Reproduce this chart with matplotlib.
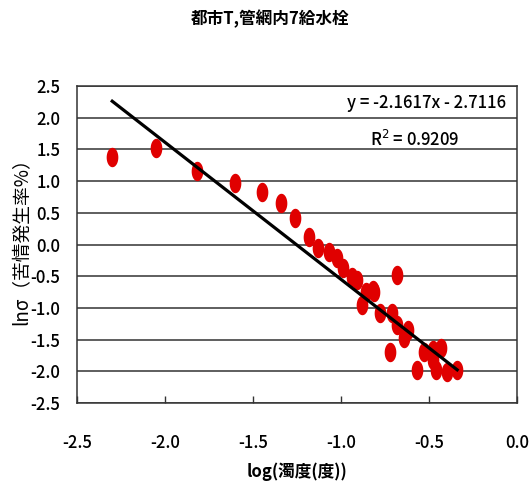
import numpy as np
import matplotlib.pyplot as plt
from matplotlib.path import Path

plt.rcParams['font.family'] = ['Noto Sans CJK JP', 'DejaVu Sans']

# log(turbidity) and ln(sigma)
log_turb = [-2.30, -2.05, -1.82, -1.60, -1.45, -1.34, -1.26, -1.18, -1.13, -1.07,
            -1.02, -0.99, -0.94, -0.91, -0.86, -0.82, -0.81, -0.88, -0.78, -0.71,
            -0.68, -0.68, -0.62, -0.64, -0.72, -0.53, -0.48, -0.43, -0.48, -0.57,
            -0.46, -0.40, -0.34]
ln_sigma = [1.38, 1.52, 1.16, 0.97, 0.83, 0.66, 0.42, 0.12, -0.06, -0.12,
            -0.21, -0.37, -0.51, -0.56, -0.75, -0.72, -0.75, -0.95, -1.08, -1.08,
            -0.48, -1.27, -1.35, -1.47, -1.70, -1.70, -1.66, -1.63, -1.82, -1.98,
            -1.98, -2.01, -1.98]
slope = -2.1617
intercept = -2.7116
r2 = 0.9209

# tall ellipse marker
t = np.linspace(0, 2 * np.pi, 60)
ellipse = Path(np.column_stack([0.6 * np.cos(t), np.sin(t)]), closed=True)

fig = plt.figure(figsize=(5.3, 4.96), dpi=100)
ax = fig.add_axes([0.1453, 0.1875, 0.8302, 0.6391])

ax.plot(log_turb, ln_sigma, linestyle='none', marker=ellipse, markersize=14,
        color='#e00000', markeredgewidth=0, zorder=3)
xs = np.array([min(log_turb), max(log_turb)])
ax.plot(xs, slope * xs + intercept, color='black', lw=2.3, zorder=4)

ax.set_xlim(-2.5, 0.0)
ax.set_ylim(-2.5, 2.5)
ax.set_xticks(np.arange(-2.5, 0.01, 0.5))
ax.set_yticks(np.arange(-2.5, 2.51, 0.5))
ax.set_xticklabels([f'{v:.1f}' for v in np.arange(-2.5, 0.01, 0.5)])
ax.set_yticklabels([f'{v:.1f}' for v in np.arange(-2.5, 2.51, 0.5)])
for lab in ax.get_xticklabels() + ax.get_yticklabels():
    lab.set_fontweight('medium')
ax.grid(axis='y', color='#333333', lw=1.1)
ax.set_axisbelow(True)
for s in ax.spines.values():
    s.set_color('#333333')
    s.set_linewidth(1.1)
ax.tick_params(axis='x', direction='in', length=5, width=1, color='#333333',
               labelsize=12, pad=22)
ax.tick_params(axis='y', length=0, labelsize=12, pad=12)

ax.text(0.975, 0.975, f'y = -{abs(slope)}x - {abs(intercept)}', transform=ax.transAxes,
        ha='right', va='top', fontsize=12, fontweight='medium')
ax.text(0.87, 0.86, f'R$^2$ = {r2}', transform=ax.transAxes,
        ha='right', va='top', fontsize=12, fontweight='medium')

fig.text(0.51, 0.962, '都市T,管網内7給水栓', ha='center', va='center', fontsize=12,
         fontweight='bold')
ax.set_xlabel('log(濁度(度))', fontsize=12, fontweight='bold', labelpad=8)
fig.text(0.042, 0.522, 'lnσ（苦情発生率%）', rotation=90, ha='center', va='center',
         fontsize=13.5)

fig.savefig('out.png', dpi=100)
